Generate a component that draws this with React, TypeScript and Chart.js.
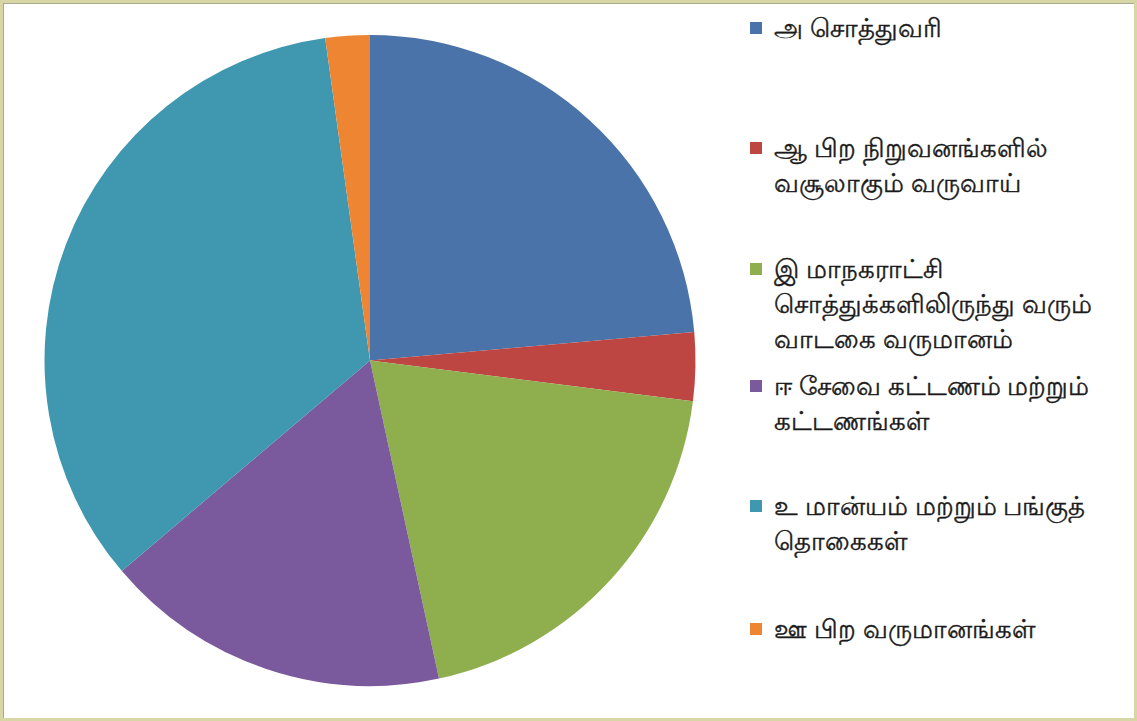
import React, { useEffect, useRef } from "react";
import { Chart, registerables } from "chart.js";

Chart.register(...registerables);

const categories: string[][] = [
  ["அ சொத்துவரி"],
  ["ஆ பிற நிறுவனங்களில்", "வசூலாகும் வருவாய்"],
  ["இ மாநகராட்சி", "சொத்துக்களிலிருந்து வரும்", "வாடகை வருமானம்"],
  ["ஈ  சேவை கட்டணம் மற்றும்", "கட்டணங்கள்"],
  ["உ மான்யம் மற்றும் பங்குத்", "தொகைகள்"],
  ["ஊ பிற வருமானங்கள்"],
];

const values: number[] = [23.6, 3.4, 19.6, 17.2, 34.0, 2.2];

const colors: string[] = ["#4A73A9", "#BE4642", "#8FAF4F", "#7A5A9C", "#3F98AF", "#EE8533"];

// vertical position of each legend item's first line (layout only)
const legendTops: number[] = [10, 130, 251, 368, 488, 611];

export default function App() {
  const ref = useRef<HTMLCanvasElement | null>(null);

  useEffect(() => {
    document.body.style.margin = "0";
    if (!ref.current) return;
    const chart = new Chart(ref.current, {
      type: "pie",
      data: {
        labels: categories.map((c) => c.join(" ")),
        datasets: [
          {
            data: values,
            backgroundColor: colors,
            borderWidth: 0,
          },
        ],
      },
      options: {
        responsive: false,
        animation: false,
        layout: { padding: { top: 35, bottom: 35, left: 44, right: 44 } },
        plugins: {
          legend: { display: false },
          tooltip: { enabled: false },
        },
      },
    });
    return () => chart.destroy();
  }, []);

  return (
    <div
      style={{
        position: "fixed",
        left: 0,
        top: 0,
        width: 1137,
        height: 721,
        background: "#fff",
        boxSizing: "border-box",
        border: "3px solid #d9d6a6",
        boxShadow: "inset 1px 1px 0 #a9a98f",
        overflow: "hidden",
      }}
    >
      <canvas
        ref={ref}
        width={740}
        height={721}
        style={{ position: "absolute", left: -3, top: -3, width: 740, height: 721 }}
      />
      {categories.map((lines, i) => (
        <div
          key={i}
          style={{
            position: "absolute",
            left: 747,
            top: legendTops[i] - 3,
            fontFamily: "'Noto Sans', 'DejaVu Sans', sans-serif",
            fontSize: 26,
            lineHeight: "35px",
            color: "#1a1a1a",
            whiteSpace: "nowrap",
            WebkitTextStroke: "0.4px #1a1a1a",
          }}
        >
          <span
            style={{
              position: "absolute",
              left: 0,
              top: 12,
              width: 12,
              height: 12,
              background: colors[i],
            }}
          />
          <div style={{ marginLeft: 24 }}>
            {lines.map((l, j) => (
              <div key={j}>{l}</div>
            ))}
          </div>
        </div>
      ))}
    </div>
  );
}
